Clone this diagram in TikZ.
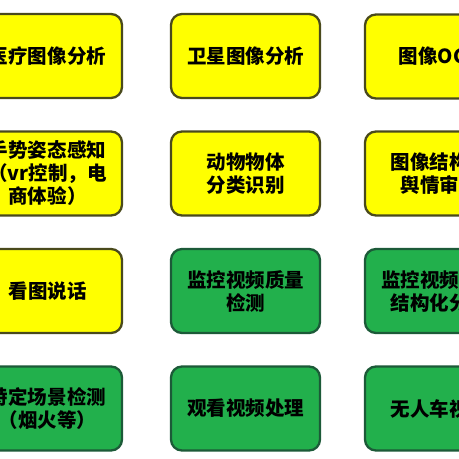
\documentclass[tikz,border=0pt]{standalone}
\usepackage{fontspec}
\newfontfamily\cjk{Noto Sans CJK SC}
\usepackage{xcolor}
\definecolor{boxyellow}{HTML}{FFFF00}
\definecolor{yellowrim}{HTML}{4A4A1C}
\definecolor{boxgreen}{HTML}{22B04C}
\definecolor{greenrim}{HTML}{1C5A38}
\usetikzlibrary{positioning}

\begin{document}
\begin{tikzpicture}[x=1bp, y=-1bp,
		task/.style={rounded corners=11bp, line width=2.3bp, minimum width=149bp, minimum height=84bp,
			align=center, font=\cjk\bfseries\fontsize{19.5bp}{23bp}\selectfont, inner sep=0pt},
		ytask/.style={task, draw=yellowrim, fill=boxyellow},
		gtask/.style={task, draw=greenrim, fill=boxgreen}]
		\useasboundingbox (0,0) rectangle (459,459);
		\clip (0,0) rectangle (459,459);
		\fill[white] (0,0) rectangle (459,459);

		% row 1
		\node[ytask] (med) at (47.5,56) {医疗图像分析};
		\node[ytask] (sat) at (245.5,56) {卫星图像分析};
		\node[ytask] (ocr) at (439.5,56.5) {图像OCR};

		% row 2
		\node[ytask] (pose) at (47.5,173.5) {手势姿态感知\\（vr控制，电\\商体验）};
		\node[ytask] (obj) at (245.5,173.5) {动物物体\\分类识别};
		\node[ytask] (struct) at (439.5,173.5) {图像结构化\\舆情审核};

		% row 3
		\node[ytask] (talk) at (47.5,291) {看图说话};
		\node[gtask] (qual) at (245.5,291) {监控视频质量\\检测};
		\node[gtask] (mon) at (439.5,291) {监控视频内容\\结构化分析};

		% row 4
		\node[gtask] (scene) at (47.5,408.5) {特定场景检测\\（烟火等）};
		\node[gtask] (watch) at (245.5,408.5) {观看视频处理};
		\node[gtask] (car) at (439.5,408.5) {无人车视觉};
	\end{tikzpicture}
\end{document}
